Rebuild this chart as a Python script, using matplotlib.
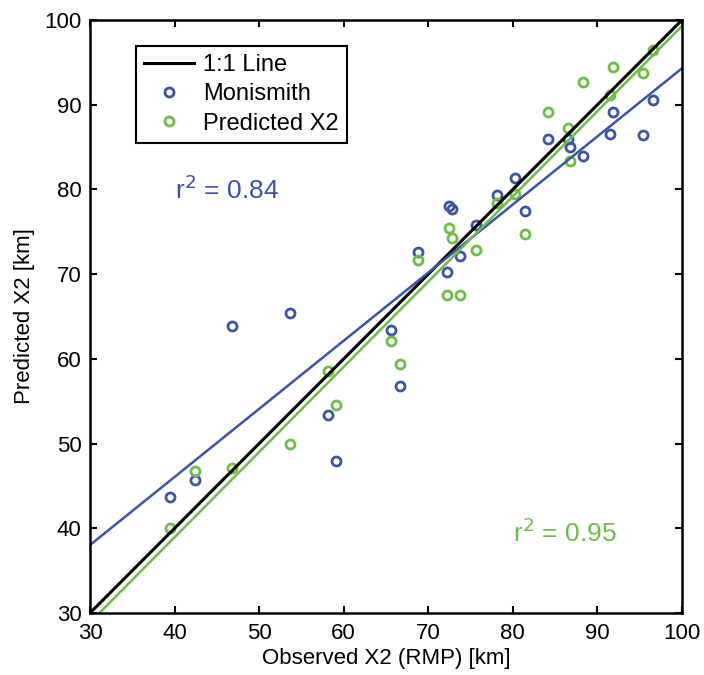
import numpy as np
import matplotlib.pyplot as plt

plt.rcParams['font.family'] = ['Liberation Sans', 'DejaVu Sans']

# observed X2 (RMP) and the two predictions [km]
observed = [39.5, 42.4, 46.8, 53.6, 58.1, 59.1, 65.6, 66.7, 68.8, 72.2, 72.4, 72.8,
            73.7, 75.6, 78.1, 80.3, 81.4, 84.1, 86.5, 86.7, 88.3, 91.5, 91.8, 95.4, 96.6]
monismith = [43.7, 45.7, 63.9, 65.4, 53.4, 48.0, 63.4, 56.8, 72.6, 70.3, 78.1, 77.7,
             72.1, 75.8, 79.3, 81.3, 77.4, 86.0, 86.0, 85.0, 84.0, 86.5, 89.1, 86.4, 90.5]
predicted = [40.0, 46.8, 47.1, 50.0, 58.6, 54.6, 62.1, 59.4, 71.7, 67.5, 75.5, 74.3,
             67.5, 72.9, 78.4, 79.5, 74.7, 89.1, 87.2, 83.4, 92.7, 91.2, 94.4, 93.7, 96.5]

# regression lines (slope, intercept) and r^2 as shown on the chart
fit_monismith = (0.804, 13.9)
fit_predicted = (1.006, -1.3)
r2_monismith = 0.84
r2_predicted = 0.95

blue = '#3A55A6'
green = '#6CBE45'

x_range = np.array([30, 100])

fig = plt.figure(figsize=(7.04, 6.75), dpi=100)
ax = fig.add_axes([90/704, 62/675, 592/704, 593/675])

p1, = ax.plot(observed, monismith, 'o', mfc='none', mec=blue, ms=6.5, mew=2)
p2, = ax.plot(observed, predicted, 'o', mfc='none', mec=green, ms=6.5, mew=2)
l1, = ax.plot(x_range, x_range, color='k', lw=2.2)
ax.plot(x_range, fit_monismith[0]*x_range + fit_monismith[1], color=blue, lw=1.8)
ax.plot(x_range, fit_predicted[0]*x_range + fit_predicted[1], color=green, lw=1.8)

ax.text(40, 80, 'r$^2$ = %.2f' % r2_monismith, color=blue, fontsize=19, va='center', ha='left')
ax.text(80, 39.5, 'r$^2$ = %.2f' % r2_predicted, color=green, fontsize=19, va='center', ha='left')

ax.set_xlim(30, 100)
ax.set_ylim(30, 100)
ax.set_xticks(np.arange(30, 101, 10))
ax.set_yticks(np.arange(30, 101, 10))
ax.tick_params(direction='in', top=True, right=True, length=5, width=1.5, labelsize=16)
ax.tick_params(axis='x', pad=7)
ax.tick_params(axis='y', pad=6)
for s in ax.spines.values():
	s.set_linewidth(1.8)

ax.set_xlabel('Observed X2 (RMP) [km]', fontsize=16, labelpad=3)
ax.set_ylabel('Predicted X2 [km]', fontsize=16, labelpad=7)

leg = ax.legend([l1, p1, p2], ['1:1 Line', 'Monismith', 'Predicted X2'], loc='upper left',
                bbox_to_anchor=(0.078, 0.956), borderaxespad=0, fontsize=17,
                handlelength=2.1, handletextpad=0.4, labelspacing=0.3,
                borderpad=0.35, fancybox=False, framealpha=1)
leg.get_frame().set_edgecolor('k')
leg.get_frame().set_linewidth(1.5)

fig.savefig('out.png', dpi=100, facecolor='white')
